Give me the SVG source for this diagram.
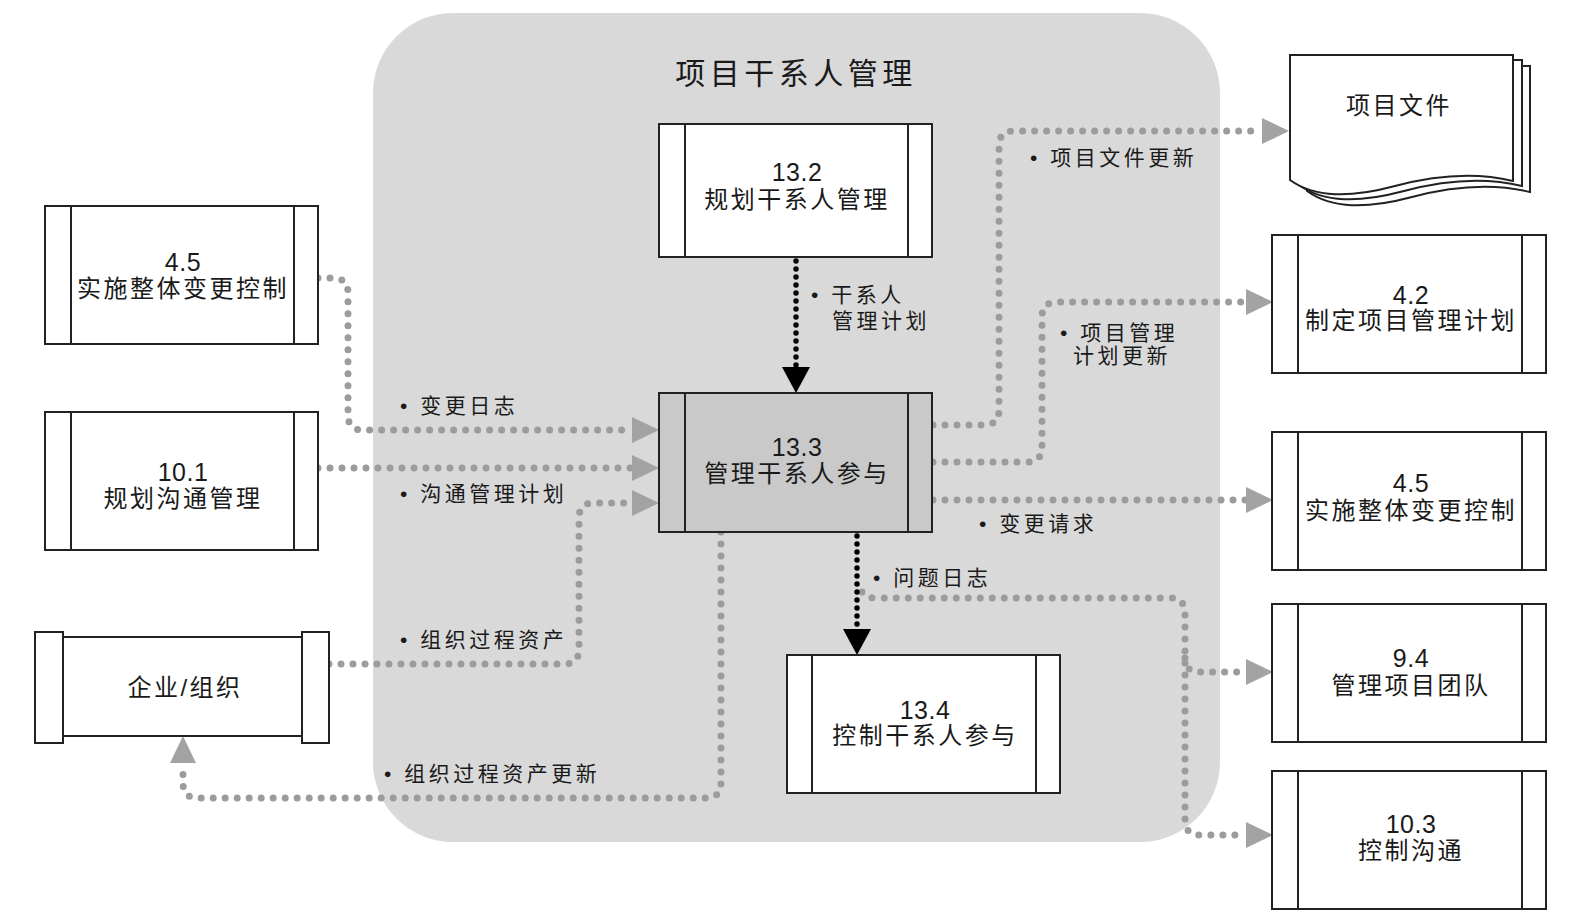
<svg xmlns="http://www.w3.org/2000/svg" width="1570" height="916" viewBox="0 0 1570 916">
<defs>
<style>
.bg{fill:#d9d9d9}
.box{fill:#fff;stroke:#222;stroke-width:2}
.box2{fill:#c9c9c9;stroke:#222;stroke-width:2}
.dv{stroke:#222;stroke-width:2}
.gray{fill:none;stroke:#9c9c9c;stroke-width:7;stroke-linecap:round;stroke-dasharray:0 12}
.blk{fill:none;stroke:#000;stroke-width:5.5;stroke-linecap:round;stroke-dasharray:0 8}
text{font-family:"Liberation Sans","Noto Sans CJK SC",sans-serif;fill:#1a1a1a}
.bt{font-size:24px;letter-spacing:2.5px;text-anchor:middle}
.bn{font-size:25px;letter-spacing:0.5px;text-anchor:middle}
.lb{font-size:21px;letter-spacing:3.5px}
.tt{font-size:30px;letter-spacing:4.5px;text-anchor:middle}
</style>
<marker id="ga" markerUnits="userSpaceOnUse" markerWidth="27" markerHeight="26" viewBox="0 0 27 26" refX="0" refY="13" orient="auto"><path d="M0,0 L27,13 L0,26 Z" fill="#a3a3a3"/></marker>
<marker id="ba" markerUnits="userSpaceOnUse" markerWidth="26" markerHeight="28" viewBox="0 0 26 28" refX="0" refY="14" orient="auto"><path d="M0,0 L26,14 L0,28 Z" fill="#000"/></marker>
</defs>
<rect width="1570" height="916" fill="#fff"/>
<g id="group-bg">
<rect class="bg" x="373" y="13" width="847" height="829" rx="80" ry="80"/>
<text class="tt" x="796" y="84">项目干系人管理</text>
</g>
<g id="connectors">
<path class="gray" d="M318,278 H333 Q348,278 348,293 V415 Q348,430 363,430 H632" marker-end="url(#ga)"/>
<path class="gray" d="M318,468 H632" marker-end="url(#ga)"/>
<path class="gray" d="M329,664 H564 Q579,664 579,649 V518 Q579,503 594,503 H632" marker-end="url(#ga)"/>
<path class="gray" d="M721,532 V783 Q721,798 706,798 H198 Q183,798 183,783 V763" marker-end="url(#ga)"/>
<path class="gray" d="M933,425 H984 Q999,425 999,410 V146 Q999,131 1014,131 H1262" marker-end="url(#ga)"/>
<path class="gray" d="M933,462 H1027 Q1042,462 1042,447 V317 Q1042,302 1057,302 H1246" marker-end="url(#ga)"/>
<path class="gray" d="M933,500 H1246" marker-end="url(#ga)"/>
<path class="gray" d="M862,592 Q866,598 876,598 H1170 Q1185,598 1185,613 V820 Q1185,835 1200,835 H1246" marker-end="url(#ga)"/>
<path class="gray" d="M1185,658 Q1185,672 1200,672 H1246" marker-end="url(#ga)"/>
<path class="blk" d="M796,261 V367" marker-end="url(#ba)"/>
<path class="blk" d="M857,536 V629" marker-end="url(#ba)"/>
<text class="lb" x="811" y="302">• 干系人</text>
<text class="lb" x="832" y="328">管理计划</text>
<text class="lb" x="400" y="413">• 变更日志</text>
<text class="lb" x="400" y="501">• 沟通管理计划</text>
<text class="lb" x="400" y="647">• 组织过程资产</text>
<text class="lb" x="384" y="781">• 组织过程资产更新</text>
<text class="lb" x="1030" y="165">• 项目文件更新</text>
<text class="lb" x="1060" y="340">• 项目管理</text>
<text class="lb" x="1073" y="363">计划更新</text>
<text class="lb" x="979" y="531">• 变更请求</text>
<text class="lb" x="873" y="585">• 问题日志</text>
</g>
<g id="node-13-2">
<rect class="box" x="659" y="124" width="273" height="133"/>
<line class="dv" x1="685" y1="124" x2="685" y2="257"/><line class="dv" x1="908" y1="124" x2="908" y2="257"/>
<text class="bn" x="797" y="181">13.2</text><text class="bt" x="797" y="208">规划干系人管理</text>
</g>
<g id="node-13-3">
<rect class="box2" x="659" y="393" width="273" height="139"/>
<line class="dv" x1="685" y1="393" x2="685" y2="532"/><line class="dv" x1="908" y1="393" x2="908" y2="532"/>
<text class="bn" x="797" y="456">13.3</text><text class="bt" x="797" y="482">管理干系人参与</text>
</g>
<g id="node-13-4">
<rect class="box" x="787" y="655" width="273" height="138"/>
<line class="dv" x1="812" y1="655" x2="812" y2="793"/><line class="dv" x1="1036" y1="655" x2="1036" y2="793"/>
<text class="bn" x="925" y="719">13.4</text><text class="bt" x="925" y="744">控制干系人参与</text>
</g>
<g id="node-4-5-left">
<rect class="box" x="45" y="206" width="273" height="138"/>
<line class="dv" x1="71" y1="206" x2="71" y2="344"/><line class="dv" x1="294" y1="206" x2="294" y2="344"/>
<text class="bn" x="183" y="271">4.5</text><text class="bt" x="183" y="297">实施整体变更控制</text>
</g>
<g id="node-10-1">
<rect class="box" x="45" y="412" width="273" height="138"/>
<line class="dv" x1="71" y1="412" x2="71" y2="550"/><line class="dv" x1="294" y1="412" x2="294" y2="550"/>
<text class="bn" x="183" y="481">10.1</text><text class="bt" x="183" y="507">规划沟通管理</text>
</g>
<g id="node-enterprise">
<rect class="box" x="63" y="637" width="239" height="99"/>
<rect class="box" x="35" y="632" width="28" height="111"/>
<rect class="box" x="302" y="632" width="27" height="111"/>
<text class="bt" x="185" y="696">企业/组织</text>
</g>
<g id="node-docs">
<path class="box" transform="translate(17,11)" d="M1290,55 H1513 V181 C1480,173 1440,174 1395,186 C1350,198 1315,198 1290,180 Z"/>
<path class="box" transform="translate(9,5)" d="M1290,55 H1513 V181 C1480,173 1440,174 1395,186 C1350,198 1315,198 1290,180 Z"/>
<path class="box" d="M1290,55 H1513 V181 C1480,173 1440,174 1395,186 C1350,198 1315,198 1290,180 Z"/>
<text class="bt" x="1399" y="114">项目文件</text>
</g>
<g id="node-4-2">
<rect class="box" x="1272" y="235" width="274" height="138"/>
<line class="dv" x1="1298" y1="235" x2="1298" y2="373"/><line class="dv" x1="1522" y1="235" x2="1522" y2="373"/>
<text class="bn" x="1411" y="304">4.2</text><text class="bt" x="1411" y="329">制定项目管理计划</text>
</g>
<g id="node-4-5-right">
<rect class="box" x="1272" y="432" width="274" height="138"/>
<line class="dv" x1="1298" y1="432" x2="1298" y2="570"/><line class="dv" x1="1522" y1="432" x2="1522" y2="570"/>
<text class="bn" x="1411" y="492">4.5</text><text class="bt" x="1411" y="519">实施整体变更控制</text>
</g>
<g id="node-9-4">
<rect class="box" x="1272" y="604" width="274" height="138"/>
<line class="dv" x1="1298" y1="604" x2="1298" y2="742"/><line class="dv" x1="1522" y1="604" x2="1522" y2="742"/>
<text class="bn" x="1411" y="667">9.4</text><text class="bt" x="1411" y="694">管理项目团队</text>
</g>
<g id="node-10-3">
<rect class="box" x="1272" y="771" width="274" height="138"/>
<line class="dv" x1="1298" y1="771" x2="1298" y2="909"/><line class="dv" x1="1522" y1="771" x2="1522" y2="909"/>
<text class="bn" x="1411" y="833">10.3</text><text class="bt" x="1411" y="859">控制沟通</text>
</g>
</svg>
